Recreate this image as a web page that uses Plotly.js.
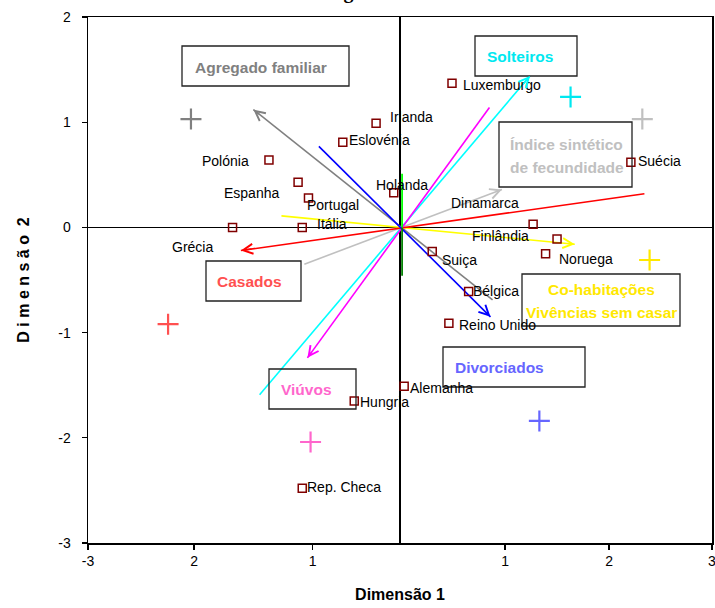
<!DOCTYPE html>
<html><head><meta charset="utf-8">
<script src="https://cdn.plot.ly/plotly-3.0.1.min.js"></script>
<style>html,body{margin:0;padding:0;background:#fff;overflow:hidden}</style>
</head><body><div id="chart" style="width:715px;height:608px"></div>
<script>
// ---- data ----
const countries = ['Luxemburgo','Irlanda','Eslovénia','Polónia','Espanha','Portugal','Holanda','Itália','Grécia','Suécia','Dinamarca','Finlândia','Noruega','Suiça','Bélgica','Reino Unido','Alemanha','Hungria','Rep. Checa'];
const countryX = [0.50,-0.23,-0.55,-1.26,-0.98,-0.88,-0.06,-0.94,-1.61,2.22,1.28,1.51,1.40,0.31,0.66,0.47,0.04,-0.44,-0.94];
const countryY = [1.37,0.99,0.81,0.64,0.43,0.28,0.33,0.00,0.00,0.62,0.03,-0.11,-0.25,-0.23,-0.61,-0.91,-1.51,-1.65,-2.48];

const categories = ['Agregado familiar','Solteiros','Índice sintético de fecundidade','Co-habitações Vivências sem casar','Casados','Viúvos','Divorciados'];
const centroidX = [-2.01,1.64,2.33,2.40,-2.23,-0.86,1.34];
const centroidY = [1.03,1.24,1.03,-0.31,-0.92,-2.04,-1.84];

const vecHeadX = [-1.41,1.25,0.98,1.68,-1.53,-0.89,0.87];
const vecHeadY = [1.12,1.44,0.36,-0.16,-0.22,-1.24,-0.85];
const vecTailX = [0.89,-1.35,-0.92,-1.14,2.35,0.86,-0.78];
const vecTailY = [-0.69,-1.59,-0.35,0.11,0.32,1.14,0.77];

const axisVecX = [0.02,0.02];
const axisVecY = [0.51,-0.46];

const xTickVals = [-3,-1.98,-0.84,1.01,2.01,3];
const xTickText = ['-3','2','1','1','2','3'];
const yTickVals = [2,1,0,-1,-2,-3];
const yTickText = ['2','1','0','-1','-2','-3'];

// ---- styles ----
const FONT = '"Liberation Sans",Arial,sans-serif';
const markColors = ['#808080','#00e8f0','#c0c0c0','#ffe800','#ff5050','#ff66cc','#6666ff'];
const vecColors  = ['#808080','#00ffff','#c0c0c0','#ffff00','#ff0000','#ff00ff','#0000ff'];
const axisVecColors = ['#00ff00','#008000'];
// label placement (screen px offsets from the point)
const labelAnchor = ['left','left','left','right','right','left','left','left','right','left','right','right','left','left','left','left','left','left','left'];
const labelDx = [10,13,5,-19,-18,-2,-19,14,-19,6,-13,-27,12,9,3,9,5,5,4];
const labelDy = [2,-6,-2,1,11,7,-8,-3,20,-1,-21,-3,5,8,-1,2,2,1,-1];

// pixel -> paper helpers (plot area 88..712 x 17..543)
const PX = p => (p-88)/624;
const PY = p => (543-p)/526;

const traces = [];
for (let i=0;i<vecHeadX.length;i++){
  traces.push({type:'scatter',mode:'lines',x:[vecTailX[i],vecHeadX[i]],y:[vecTailY[i],vecHeadY[i]],
    line:{color:vecColors[i],width:1.6},hoverinfo:'skip',showlegend:false});
}
for (let i=0;i<axisVecY.length;i++){
  traces.push({type:'scatter',mode:'lines',x:[0.02,axisVecX[i]],y:[0,axisVecY[i]],
    line:{color:axisVecColors[i],width:1.8},hoverinfo:'skip',showlegend:false});
}
traces.push({type:'scatter',mode:'markers',x:centroidX,y:centroidY,text:categories,
  marker:{symbol:'cross-thin',size:15,line:{width:2.2,color:markColors}},showlegend:false});
traces.push({type:'scatter',mode:'markers',x:countryX,y:countryY,text:countries,
  marker:{symbol:'square-open',size:8,color:'#800000',line:{width:1.5,color:'#800000'}},showlegend:false});

const annotations = [];
countries.forEach((c,i)=>{
  annotations.push({x:countryX[i],y:countryY[i],xref:'x',yref:'y',text:c,showarrow:false,
    xanchor:labelAnchor[i],yanchor:'middle',xshift:labelDx[i],yshift:-labelDy[i],
    font:{family:FONT,size:14,color:'#000'},borderpad:0});
});
[0,1,2,3,4,5,6].forEach(i=>{
  const dx = vecHeadX[i]-vecTailX[i], dy = vecHeadY[i]-vecTailY[i];
  annotations.push({x:vecHeadX[i],y:vecHeadY[i],ax:vecHeadX[i]-dx*0.03,ay:vecHeadY[i]-dy*0.03,
    xref:'x',yref:'y',axref:'x',ayref:'y',text:'',showarrow:true,arrowhead:5,arrowsize:1.3,
    arrowwidth:1.5,arrowcolor:vecColors[i],standoff:0,startstandoff:0});
});
const boxText = [
  ['Agregado familiar',194,67,'left',markColors[0]],
  ['Solteiros',486,56,'left',markColors[1]],
  ['Índice sintético',509,144,'left',markColors[2]],
  ['de fecundidade',509,167,'left',markColors[2]],
  ['Co-habitações',601,289,'center',markColors[3]],
  ['Vivências sem casar',601,313,'center',markColors[3]],
  ['Casados',216,281,'left',markColors[4]],
  ['Viúvos',280,389,'left',markColors[5]],
  ['Divorciados',454,367,'left',markColors[6]]
];
boxText.forEach(b=>{
  annotations.push({xref:'paper',yref:'paper',x:PX(b[1]),y:PY(b[2]),text:'<b>'+b[0]+'</b>',showarrow:false,
    xanchor:b[3],yanchor:'middle',font:{family:FONT,size:15.5,color:b[4]},borderpad:0});
});
annotations.push({xref:'paper',yref:'paper',x:PX(344),y:PY(5),text:'<b>Imagem</b>',showarrow:false,
  xanchor:'center',yanchor:'bottom',font:{family:'"Liberation Serif","Times New Roman",serif',size:20,color:'#000'}});

const boxes = [[182,46,349,86],[475,36,577,76],[499,122,632,187],[206,261,301,301],[522,274,680,326],[443,347,585,387],[269,369,356,409]];
const shapes = boxes.map(b=>({type:'rect',xref:'paper',yref:'paper',x0:PX(b[0]),x1:PX(b[2]),y0:PY(b[3]),y1:PY(b[1]),
  line:{color:'#222',width:1.3},fillcolor:'rgba(0,0,0,0)',layer:'above'}));

const layout = {
  width:715,height:608,margin:{l:88,r:3,t:17,b:65},
  paper_bgcolor:'#fff',plot_bgcolor:'#fff',
  font:{family:FONT,size:14,color:'#000'},
  xaxis:{range:[-3,3],tickvals:xTickVals,ticktext:xTickText,ticks:'outside',ticklen:5,tickwidth:1.3,tickcolor:'#000',
    showline:true,linecolor:'#000',linewidth:1.5,mirror:true,showgrid:false,zeroline:true,zerolinecolor:'#000',zerolinewidth:1.3,
    tickfont:{family:FONT,size:14},ticklabeloverflow:'allow',
    title:{text:'<b>Dimensão 1</b>',font:{family:FONT,size:16},standoff:20}},
  yaxis:{range:[-3,2],tickvals:yTickVals,ticktext:yTickText,ticks:'outside',ticklen:5,tickwidth:1.3,tickcolor:'#000',
    showline:true,linecolor:'#000',linewidth:1.5,mirror:true,showgrid:false,zeroline:true,zerolinecolor:'#000',zerolinewidth:1.3,
    tickfont:{family:FONT,size:14},ticklabelstandoff:8,ticklabeloverflow:'allow',
    title:{text:'<b>D i m e n s ã o  2</b>',font:{family:FONT,size:16},standoff:24}},
  annotations:annotations,shapes:shapes,hovermode:false
};
Plotly.newPlot('chart',traces,layout,{staticPlot:true,displayModeBar:false});
</script></body></html>
